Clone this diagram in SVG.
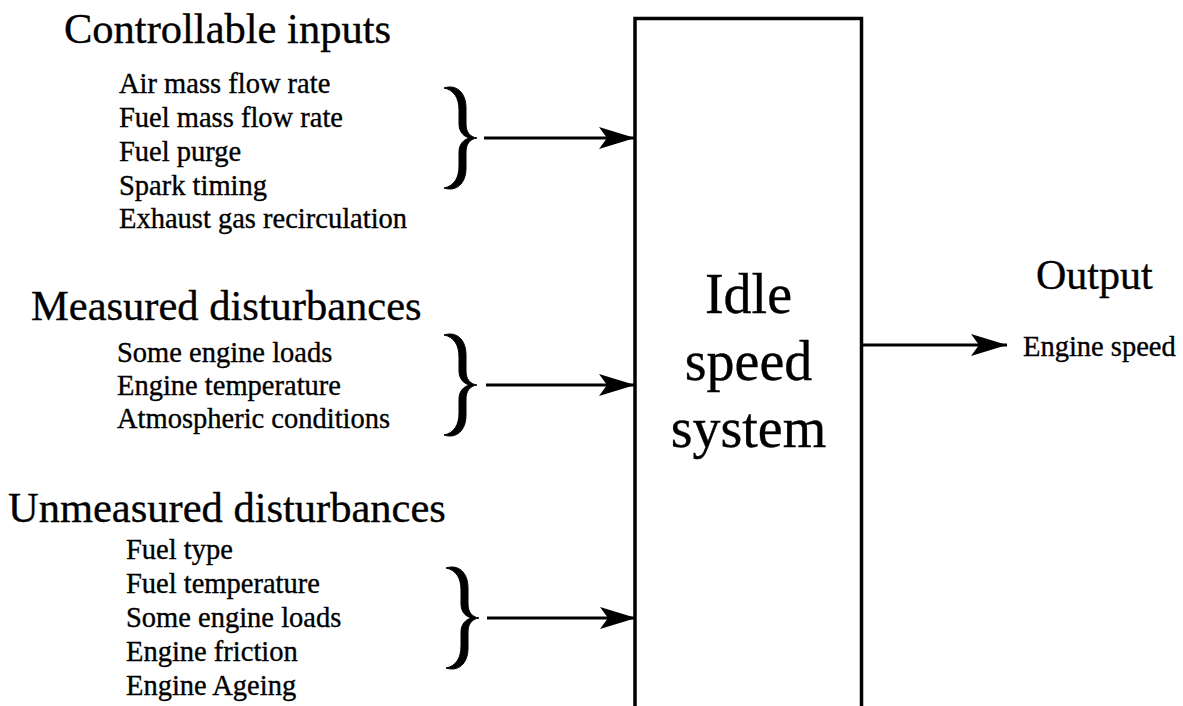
<svg xmlns="http://www.w3.org/2000/svg" width="1183" height="706" viewBox="0 0 1183 706">
  <style>
    text { font-family: "Liberation Serif", "Times New Roman", serif; fill: #000; stroke: #000; stroke-width: 0.35px; }
    .title { font-size: 42.5px; }
    .item { font-size: 28.5px; }
    .big { font-size: 56px; text-anchor: middle; }
    .out { font-size: 42px; }
    .conn { stroke: #000; stroke-width: 3; fill: none; }
    .brace { fill: #000; stroke: #000; stroke-width: 1; }
  </style>
  <defs>
    <marker id="ah" markerUnits="userSpaceOnUse" markerWidth="40" markerHeight="26" refX="36" refY="12" orient="auto">
      <path d="M0,1 L36,12 L0,23 L8,12 Z" fill="#000"/>
    </marker>
    <path id="brc" d="M444,-50 C456,-54 466,-46 466,-30 L466,-14 C466,-6 470,-1 477,0 C470,1 466,6 466,14 L466,30 C466,46 456,54 444,50 C454,48 459,40 459,28 L459,14 C459,6 464,1 470,0 C464,-1 459,-6 459,-14 L459,-28 C459,-40 454,-48 444,-50 Z"/>
  </defs>
  <rect width="1183" height="706" fill="#fff"/>

  <g id="controllable">
    <text class="title" x="64" y="43">Controllable inputs</text>
    <text class="item" x="119" y="93">Air mass flow rate</text>
    <text class="item" x="119" y="127">Fuel mass flow rate</text>
    <text class="item" x="119" y="161">Fuel purge</text>
    <text class="item" x="119" y="195">Spark timing</text>
    <text class="item" x="119" y="228">Exhaust gas recirculation</text>
    <use href="#brc" class="brace" transform="translate(0,138)"/>
  </g>

  <g id="measured">
    <text class="title" x="31" y="320">Measured disturbances</text>
    <text class="item" x="117" y="362">Some engine loads</text>
    <text class="item" x="117" y="395">Engine temperature</text>
    <text class="item" x="117" y="428">Atmospheric conditions</text>
    <use href="#brc" class="brace" transform="translate(0,385)"/>
  </g>

  <g id="unmeasured">
    <text class="title" x="8" y="522">Unmeasured disturbances</text>
    <text class="item" x="126" y="559">Fuel type</text>
    <text class="item" x="126" y="593">Fuel temperature</text>
    <text class="item" x="126" y="627">Some engine loads</text>
    <text class="item" x="126" y="661">Engine friction</text>
    <text class="item" x="126" y="695">Engine Ageing</text>
    <use href="#brc" class="brace" transform="translate(2,618)"/>
  </g>

  <g id="system">
    <rect x="635" y="18.5" width="226.5" height="720" fill="none" stroke="#000" stroke-width="3.5"/>
    <text class="big" x="748.5" y="313">Idle</text>
    <text class="big" x="748.5" y="380">speed</text>
    <text class="big" x="748.5" y="447">system</text>
  </g>

  <g id="output">
    <text class="out" x="1036" y="289">Output</text>
    <text class="item" x="1023" y="356">Engine speed</text>
  </g>

  <g id="connectors">
    <line class="conn" x1="484" y1="138" x2="635" y2="138" marker-end="url(#ah)"/>
    <line class="conn" x1="486" y1="385" x2="635" y2="385" marker-end="url(#ah)"/>
    <line class="conn" x1="487" y1="618" x2="636" y2="618" marker-end="url(#ah)"/>
    <line class="conn" x1="863" y1="345" x2="1007" y2="345" marker-end="url(#ah)"/>
  </g>
</svg>
